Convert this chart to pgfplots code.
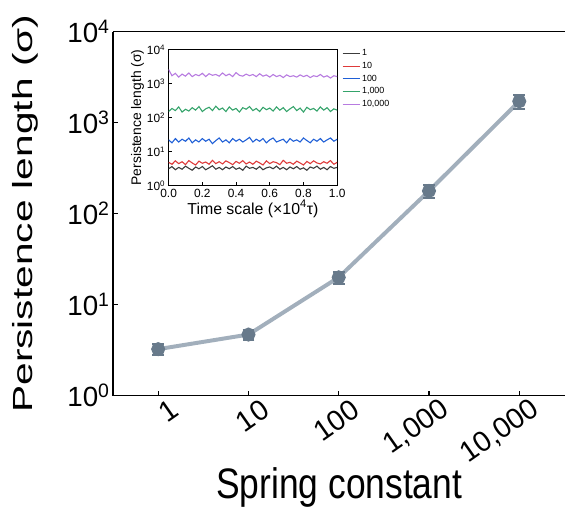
\documentclass[border=0pt]{standalone}
\usepackage{pgfplots}
\pgfplotsset{compat=1.18}
\usepackage{pgfplotstable}
\usepackage{graphicx}
\usepackage{fontspec}
\setmainfont{Liberation Sans}

\definecolor{linecol}{HTML}{A2AFBC}
\definecolor{markcol}{HTML}{687A8B}
\definecolor{cA}{HTML}{3C3C3C}
\definecolor{cB}{HTML}{DE3A3A}
\definecolor{cC}{HTML}{1F5FD6}
\definecolor{cD}{HTML}{34A36A}
\definecolor{cE}{HTML}{B77BE0}

% inset: persistence length vs time for each spring constant
\pgfplotstableread{
t    k1  k10 k100 k1000 k10000
0.00 3.1 4.8 22 150 2600
0.02 3.6 4.2 18 185 1700
0.04 2.9 5.3 24 160 2000
0.06 3.4 4.4 19 205 1550
0.08 3.0 5.0 23 145 1900
0.10 3.7 4.1 20 175 1650
0.12 3.2 5.4 25 155 2050
0.14 2.8 4.6 18 195 1600
0.16 3.5 4.0 22 165 1850
0.18 3.1 5.2 19 210 1700
0.20 3.6 4.5 24 150 2000
0.22 2.9 4.9 20 180 1600
0.24 3.3 4.2 23 200 1950
0.26 3.8 5.5 17 160 1750
0.28 3.0 4.4 21 215 1850
0.30 3.4 5.0 25 170 1650
0.32 2.9 4.3 19 190 2050
0.34 3.5 5.3 22 150 1700
0.36 3.1 4.7 18 205 1900
0.38 3.6 4.1 24 165 1600
0.40 3.0 5.1 20 185 2100
0.42 3.3 4.5 23 145 1750
0.44 2.8 5.4 19 195 1650
0.46 3.7 4.3 22 175 1900
0.48 3.2 4.9 26 210 1700
0.50 3.4 4.2 19 160 1850
0.52 3.0 5.2 23 185 1600
0.54 3.6 4.6 20 150 1950
0.56 2.9 4.0 24 200 1650
0.58 3.3 5.3 18 170 1800
0.60 3.5 4.4 22 190 1550
0.62 3.1 5.0 25 155 1850
0.64 3.7 4.7 19 205 1600
0.66 3.0 4.1 21 165 1750
0.68 3.4 5.5 23 195 1500
0.70 2.9 4.5 18 150 1800
0.72 3.5 4.8 24 180 1600
0.74 3.1 4.2 20 210 1700
0.76 3.6 5.2 22 160 1550
0.78 3.0 4.6 19 190 1800
0.80 3.3 4.0 25 145 1600
0.82 2.8 5.1 21 200 1750
0.84 3.5 4.4 18 170 1500
0.86 3.2 5.3 23 185 1700
0.88 3.7 4.6 20 155 1600
0.90 3.0 4.3 24 205 1850
0.92 3.4 5.0 19 165 1550
0.94 2.9 4.5 22 195 1700
0.96 3.6 5.4 25 150 1450
0.98 3.2 4.2 20 180 1700
1.00 3.4 4.8 23 165 1600
}\noisetab

\begin{document}
\begin{tikzpicture}
% page frame, same size as the reference
\path (-114pt,-111pt) rectangle (452pt,399pt);

\begin{axis}[
    at={(0,0)}, anchor=south west,
    scale only axis, width=456pt, height=367pt,
    xmin=0.5, xmax=5.51,
    ymode=log, ymin=1, ymax=10000,
    axis x line*=bottom, axis y line*=left,
    axis line style={-, line width=1.4pt},
    tick align=inside, major tick length=5pt,
    tick style={line width=1.2pt, black},
    yminorticks=false,
    xtick={1,2,3,4,5},
    xticklabels={1,10,100,{1,000},{10,000}},
    ytick={1,10,100,1000,10000},
    yticklabels={10\textsuperscript{0},10\textsuperscript{1},10\textsuperscript{2},10\textsuperscript{3},10\textsuperscript{4}},
    yticklabel style={font=\fontsize{28}{30}\selectfont},
    xticklabel style={font=\fontsize{29}{31}\selectfont,
        xshift=20pt, yshift=-9pt, rotate=35, anchor=east},
    xlabel={\scalebox{0.83}[1]{Spring constant}},
    ylabel={\scalebox{1}[0.68]{Persistence length (σ)}},
    xlabel style={font=\fontsize{43}{45}\selectfont, inner sep=0pt,
        at={(axis description cs:0.5,-0.2834)}, anchor=base},
    ylabel style={font=\fontsize{41}{43}\selectfont, inner sep=0pt,
        at={(axis description cs:-0.2237,0.5)}, anchor=north},
]
\draw[line width=1.4pt] (rel axis cs:0,1) -- (rel axis cs:1,1);
\addplot[linecol, line width=4pt, mark=*, mark size=5pt,
    mark options={draw=markcol, fill=markcol},
    error bars/.cd, y dir=both, y explicit,
    error bar style={markcol, line width=2.5pt},
    error mark options={rotate=90, markcol, mark size=6pt, line width=2pt}]
coordinates {
    (1,3.25) +- (0,0.45)
    (2,4.7) +- (0,0.6)
    (3,20) +- (0,3)
    (4,178) +- (0,30)
    (5,1720) +- (0,300)
};
\end{axis}

\begin{axis}[
    at={(56pt,212pt)}, anchor=south west,
    scale only axis, width=170pt, height=137pt,
    xmin=0, xmax=1,
    ymode=log, ymin=1, ymax=10000,
    tick align=inside, major tick length=3pt,
    tick style={black, line width=0.6pt},
    axis line style={line width=0.8pt},
    yminorticks=false,
    xtick={0,0.2,0.4,0.6,0.8,1},
    ytick={1,10,100,1000,10000},
    yticklabels={10\textsuperscript{0},10\textsuperscript{1},10\textsuperscript{2},10\textsuperscript{3},10\textsuperscript{4}},
    xticklabel style={/pgf/number format/.cd, fixed, fixed zerofill, precision=1, assume math mode=true},
    tick label style={font=\fontsize{12}{13}\selectfont},
    xtick pos=bottom, ytick pos=left,
    xlabel={Time scale (×10\textsuperscript{4}τ)},
    ylabel={Persistence length (σ)},
    xlabel style={font=\fontsize{16}{17}\selectfont, yshift=4pt},
    ylabel style={font=\fontsize{14}{15}\selectfont, yshift=-4pt},
    legend style={draw=none, fill=none, at={(1.01,1.03)}, anchor=north west,
        font=\fontsize{9}{10}\selectfont, row sep=1pt},
    legend cell align=left,
]
\addplot[cA, line width=1.1pt] table[x=t, y=k1] {\noisetab};
\addplot[cB, line width=1.1pt] table[x=t, y=k10] {\noisetab};
\addplot[cC, line width=1.1pt] table[x=t, y=k100] {\noisetab};
\addplot[cD, line width=1.1pt] table[x=t, y=k1000] {\noisetab};
\addplot[cE, line width=1.1pt] table[x=t, y=k10000] {\noisetab};
\legend{1,10,100,{1,000},{10,000}}
\end{axis}
\end{tikzpicture}
\end{document}
